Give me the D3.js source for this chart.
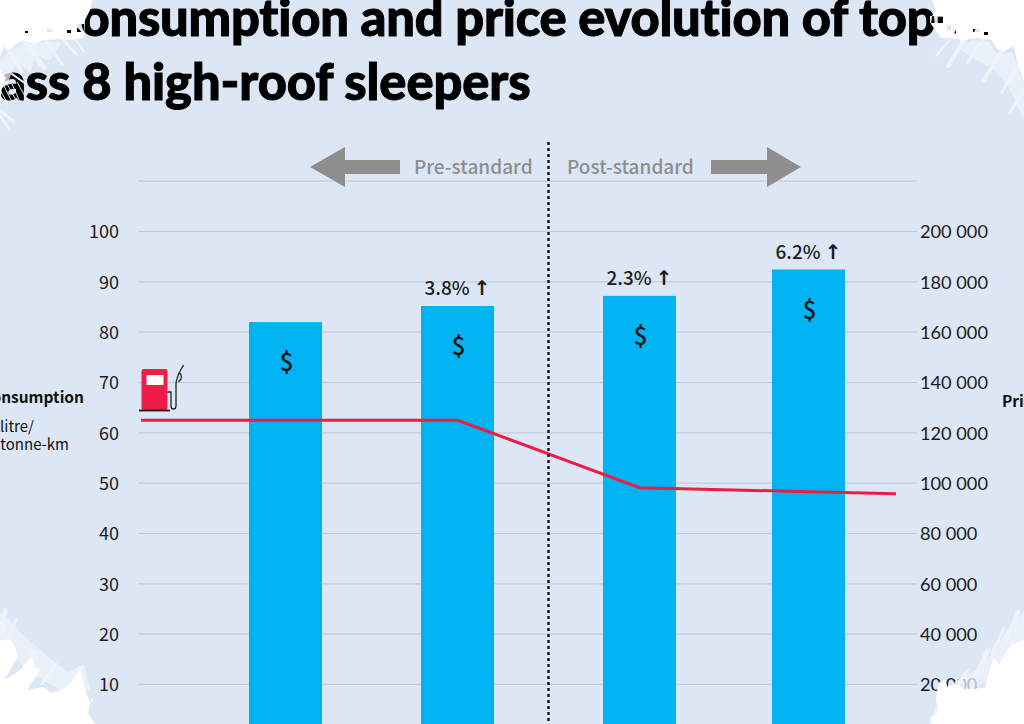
<!DOCTYPE html>
<html>
<head>
<meta charset="utf-8">
<style>
  html, body { margin: 0; padding: 0; background: #fff; }
  svg { display: block; }
  .num { fill: #1c1c1c; }
</style>
<script src="https://cdn.jsdelivr.net/npm/d3@7/dist/d3.min.js"></script>
</head>
<body>
<svg id="chart" width="1024" height="724"></svg>
<script>
// Categories along the horizontal axis; the fuel line runs past the outer trucks.
const trucks = ["Truck 1", "Truck 2", "Truck 3", "Truck 4"];
const lineStops = ["Start", "Truck 1", "Truck 2", "Truck 3", "Truck 4", "End"];

// Series values
const prices = [163800, 170200, 174200, 184700];
const priceChange = [null, "3.8%", "2.3%", "6.2%"];
const fuelUse = [62.4, 62.4, 62.4, 49, 48.2, 47.8];

// Tick labels
const fuelTicks = [10, 20, 30, 40, 50, 60, 70, 80, 90, 100];
const priceTicks = [20000, 40000, 60000, 80000, 100000, 120000, 140000, 160000, 180000, 200000];
const gridTicks = [10, 20, 30, 40, 50, 60, 70, 80, 90, 100, 110];
const titleLines = ["Fuel consumption and price evolution of top-selling", "Class 8 high-roof sleepers"];

const BG = "#dce6f5", STREAK = "#eef3fb", BAR = "#00b3f2", RED = "#ee1c47", GREY = "#8e8e8e";
const CJK = '"Noto Sans CJK SC"';

const svg = d3.select("#chart");
svg.append("rect").attr("width", 1024).attr("height", 724).attr("fill", BG);

// Scales: the two value axes share one vertical extent.
const yFuel = d3.scaleLinear().domain([0, 100]).range([734.3, 231]);
const yPrice = d3.scaleLinear().domain([0, 200000]).range([734.3, 231]);
const xStop = d3.scaleOrdinal().domain(lineStops).range([141, 285.5, 457.5, 639.5, 808.5, 896]);
const barWidth = 73;

// Gridlines
const grid = svg.append("g").attr("transform", "translate(138,0)")
  .call(d3.axisRight(yFuel).tickValues(gridTicks).tickSize(779).tickFormat(""));
grid.select(".domain").remove();
grid.selectAll("line").attr("stroke", "#c5ccd8").attr("stroke-width", 1.2);

// Left axis
const left = svg.append("g").attr("transform", "translate(119,1)")
  .call(d3.axisLeft(yFuel).tickValues(fuelTicks).tickSize(0).tickPadding(0));
left.select(".domain").remove();
left.selectAll("text").attr("class", "num").attr("font-size", 18).style("font-family", CJK);

// Right axis, thin space as the thousands separator
const spaced = d => d3.format(",")(d).replace(/,/g, " ");
const right = svg.append("g").attr("transform", "translate(920,1)")
  .call(d3.axisRight(yPrice).tickValues(priceTicks).tickSize(0).tickPadding(0).tickFormat(spaced));
right.select(".domain").remove();
right.selectAll("text").attr("class", "num").attr("font-size", 18.2).style("font-family", "Lato");

// Price bars
svg.append("g").selectAll("rect").data(trucks).join("rect")
  .attr("x", d => xStop(d) - barWidth / 2)
  .attr("width", barWidth)
  .attr("y", (d, i) => yPrice(prices[i]))
  .attr("height", (d, i) => yPrice(0) - yPrice(prices[i]))
  .attr("fill", BAR);

// Dollar signs inside the bars
svg.append("g").selectAll("text").data(trucks).join("text")
  .attr("x", d => xStop(d) + 1)
  .attr("y", (d, i) => yPrice(prices[i]) + 49)
  .attr("text-anchor", "middle")
  .attr("font-size", 24)
  .attr("font-weight", 500)
  .style("font-family", CJK)
  .attr("fill", "#111")
  .text("$");

// Price growth labels above the bars
const growth = svg.append("g").selectAll("text").data(trucks.slice(1)).join("text")
  .attr("class", "num")
  .attr("x", d => xStop(d))
  .attr("y", (d, i) => yPrice(prices[i + 1]) - 10.5)
  .attr("text-anchor", "middle")
  .attr("font-size", 19)
  .attr("font-weight", 500)
  .style("font-family", CJK);
growth.append("tspan").text((d, i) => priceChange[i + 1] + " ");
growth.append("tspan").style("font-family", '"DejaVu Sans"').attr("font-size", 20).attr("font-weight", 700).text("↑");

// Fuel consumption line
const line = d3.line().x((d, i) => xStop(lineStops[i])).y(d => yFuel(d));
svg.append("path").datum(fuelUse).attr("d", line)
  .attr("fill", "none").attr("stroke", RED).attr("stroke-width", 3);

// Fuel pump icon at the head of the line
const pump = svg.append("g");
pump.append("rect").attr("x", 141.5).attr("y", 369).attr("width", 26).attr("height", 41).attr("rx", 2).attr("fill", RED);
pump.append("rect").attr("x", 146.5).attr("y", 375).attr("width", 17).attr("height", 10).attr("fill", "#fff");
pump.append("line").attr("x1", 139).attr("x2", 170).attr("y1", 410.5).attr("y2", 410.5).attr("stroke", "#111").attr("stroke-width", 1.8);
pump.append("path")
  .attr("d", "M167.5 392H171V406Q171 409 173.5 409T176 406V384Q176 381 177 379L178.5 374Q182 372 181 379L178.5 382M178.5 374L183.5 365")
  .attr("fill", "none").attr("stroke", "#222").attr("stroke-width", 1.3);

// Standard divider
svg.append("line").attr("x1", 548.5).attr("x2", 548.5).attr("y1", 142).attr("y2", 724)
  .attr("stroke", "#111").attr("stroke-width", 2.4).attr("stroke-dasharray", "3 3");

// Pre- and post-standard captions with their arrows
svg.append("path").attr("fill", GREY).attr("d", "M310 167L345 147V160H400V174H345V187Z");
svg.append("path").attr("fill", GREY).attr("d", "M801 167L767 147V160H711V174H767V187Z");
[["Pre-standard", 414], ["Post-standard", 567]].forEach(([label, x]) => {
  svg.append("text").attr("x", x).attr("y", 174).attr("fill", GREY)
    .attr("font-size", 19).attr("font-weight", 500)
    .style("font-family", CJK).text(label);
});

// Axis captions
const caption = (txt, x, y, anchor, size, weight) => svg.append("text")
  .attr("x", x).attr("y", y).attr("text-anchor", anchor)
  .attr("font-size", size).attr("font-weight", weight).attr("fill", "#111")
  .style("font-family", CJK).text(txt);
caption("consumption", 84, 403, "end", 15.5, 700);
caption("litre/", 0, 432, "start", 15, 400);
caption("tonne-km", 69, 450, "end", 15, 400);
caption("Price", 1002, 407, "start", 15.5, 700);

// Two-line headline, thickened slightly with a stroke
svg.append("g").selectAll("text").data(titleLines).join("text")
  .attr("x", (d, i) => i === 0 ? -50 : -46)
  .attr("y", (d, i) => i === 0 ? 36 : 100)
  .attr("font-size", 50.6)
  .attr("font-weight", 900)
  .attr("letter-spacing", (d, i) => i === 0 ? -0.2 : -0.1)
  .attr("stroke", "#000")
  .attr("stroke-width", 1)
  .style("font-family", "Lato")
  .attr("fill", "#000")
  .text(d => d);

// Brushed paper edges: pale streaks first, then the white corners on top.
const softPatches = [
  "M0 60L12 48L30 42L48 42L62 42L50 60L36 56L30 72L16 62L8 82L0 84Z",
  "M958 48L972 40L990 42L996 54L1012 52L1024 84V120L1008 86L992 68L976 60Z",
  "M0 612L8 618L20 632L38 648L52 660L68 672L84 664L90 690L60 690L30 672L0 645Z",
  "M1024 612L1008 628L996 648L980 668L960 678L944 690L932 716L960 700L1000 670L1024 640Z"
];
svg.append("g").selectAll("path").data(softPatches).join("path").attr("d", d => d).attr("fill", STREAK).attr("opacity", 0.75);

const streaks = [
  [6, 46, 22, 72, 4], [24, 40, 44, 68, 5], [44, 38, 62, 64, 3], [62, 38, 76, 54, 3], [74, 38, 84, 52, 2],
  [0, 110, 14, 122, 3], [0, 116, 10, 130, 3], [12, 74, 26, 84, 2],
  [964, 40, 948, 66, 4], [984, 38, 968, 62, 3], [1000, 54, 984, 80, 4], [1018, 66, 1002, 92, 3], [1024, 90, 1010, 112, 3], [950, 40, 936, 56, 2],
  [5, 610, 2, 632, 4], [16, 620, 8, 640, 3], [33, 652, 22, 676, 4], [56, 664, 42, 684, 3], [80, 668, 70, 696, 5], [92, 700, 84, 712, 2],
  [1018, 612, 1006, 640, 4], [1004, 628, 992, 654, 3], [988, 650, 976, 676, 5], [968, 670, 952, 692, 3], [950, 686, 936, 712, 3]
];
svg.append("g").selectAll("line").data(streaks).join("line")
  .attr("x1", d => d[0]).attr("y1", d => d[1]).attr("x2", d => d[2]).attr("y2", d => d[3])
  .attr("stroke", STREAK).attr("stroke-width", d => d[4]).attr("stroke-linecap", "round");

const corners = [
  // top left, with small gaps where scraps of the headline survive
  "M0 0H92L90 10L85 20L84 38L70 40L60 39L44 40L34 44L24 40L16 44L10 50L4 46L0 58Z" +
  "M47 29h5v3h-5zM67 30h4v3h-4zM77 24h7v8h-7zM25 31h3v2h-3z",
  // spike reaching into the second headline line
  "M0 70L6 78L2 86L0 104Z",
  // top right
  "M932 0L936 10L932 16L931 24L941 38L950 38L959 39L962 43L968 39L976 38L984 39L992 40L996 48L1002 52L1014 46L1017 62L1024 82V0Z" +
  "M930 16h13v7h-13zM947 25h4v5h-4zM953 29h3v5h-3zM973 29h6v3h-6zM984 32h4v3h-4z",
  // bottom left
  "M0 640H10L15 647L18 657L10 670L5 680L20 670L32 657L35 667L40 670L27 690L43 687L52 693L67 687L80 670L83 683L90 703L88 713L95 724H0Z",
  // bottom right
  "M931 724L930 718L939 712L936 700L938 683L945 680L948 688L955 684L965 689L985 688L989 672L994 657L999 665L1006 652L1012 645L1024 640V724Z"
];
svg.append("g").selectAll("path").data(corners).join("path")
  .attr("d", d => d).attr("fill", "#fff").attr("fill-rule", "evenodd");

// Fine white scratches across the start of the second headline line
const scratches = [[2, 82, 12, 102], [6, 82, 16, 100], [12, 84, 20, 102], [17, 82, 26, 98], [0, 90, 8, 104]];
svg.append("g").selectAll("line").data(scratches).join("line")
  .attr("x1", d => d[0]).attr("y1", d => d[1]).attr("x2", d => d[2]).attr("y2", d => d[3])
  .attr("stroke", "#fff").attr("stroke-width", 0.9);
</script>
</body>
</html>
